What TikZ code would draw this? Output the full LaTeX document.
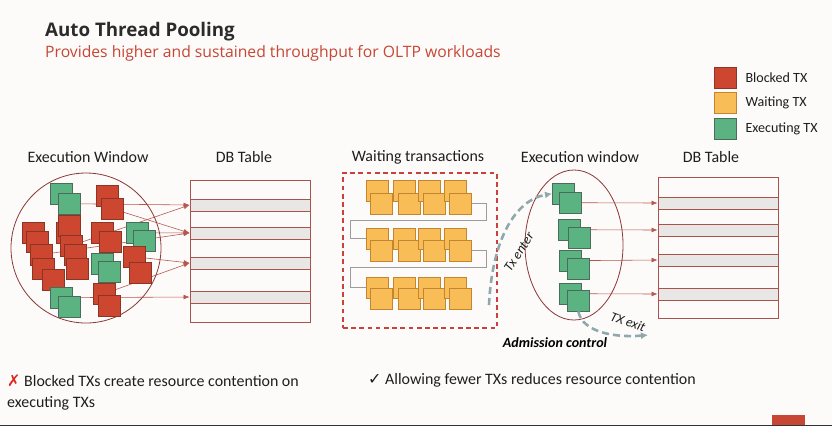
\documentclass[tikz,border=0pt]{standalone}
\usepackage{fontspec}
\setmainfont{Carlito}
\newfontfamily\headfont{Open Sans}
\newfontfamily\symfont{DejaVu Sans}
\usetikzlibrary{positioning,fit,backgrounds,arrows.meta,shapes.geometric}

\definecolor{paper}{HTML}{FCFBFA}
\definecolor{oraRed}{HTML}{C74634}
\definecolor{headGray}{HTML}{2B2B2B}
\definecolor{inkBlack}{HTML}{1E1E1E}
\definecolor{crossRed}{HTML}{E0251C}
\definecolor{blockFill}{HTML}{CC4630}
\definecolor{blockEdge}{HTML}{8A3526}
\definecolor{waitFill}{HTML}{F8BD57}
\definecolor{waitEdge}{HTML}{C5852E}
\definecolor{execFill}{HTML}{5BB382}
\definecolor{execEdge}{HTML}{4B6B5B}
\definecolor{tableEdge}{HTML}{A8534C}
\definecolor{rowFill}{HTML}{E9E7E6}
\definecolor{winEdge}{HTML}{8C3B37}
\definecolor{hitRed}{HTML}{B8554D}
\definecolor{dashRed}{HTML}{C8413A}
\definecolor{flowGray}{HTML}{8FA8AB}
\definecolor{queueGray}{HTML}{9C9C9C}

\tikzset{
  txbox/.style={draw, line width=0.6pt, minimum width=6.6mm, minimum height=6.2mm, inner sep=0pt, anchor=north west},
  blocked/.style={txbox, fill=blockFill, draw=blockEdge},
  waiting/.style={txbox, fill=waitFill, draw=waitEdge},
  executing/.style={txbox, fill=execFill, draw=execEdge},
  dbtable/.style={draw=tableEdge, line width=0.8pt, inner sep=0pt},
  dbrow/.style={dbtable, fill=rowFill},
  window/.style={draw=winEdge, line width=0.7pt, inner sep=0pt},
  hit/.style={draw=hitRed, line width=0.5pt, -{Latex[length=5pt,width=4pt]}},
  queue/.style={draw=queueGray, line width=0.8pt},
  flow/.style={draw=flowGray, line width=2.2pt, dash pattern=on 6pt off 3.5pt, -{Latex[length=6pt,width=6pt]}},
  heading/.style={font=\fontsize{13.6}{16}\selectfont, text=inkBlack},
  legendtext/.style={font=\fontsize{12}{14}\selectfont, text=inkBlack},
  note/.style={font=\fontsize{13.6}{17.5}\selectfont, text=inkBlack, inner sep=0pt},
}

\begin{document}
\begin{tikzpicture}[x=0.3mm, y=-0.3mm]
\begin{scope}[on background layer]
  \fill[paper] (0,0) rectangle (832,426);
\end{scope}
\useasboundingbox (0,0) rectangle (832,426);

% heading
\node[anchor=base west, inner sep=0pt, font=\headfont\bfseries\fontsize{16}{19}\selectfont, text=headGray] (title) at (45,36) {Auto Thread Pooling};
\node[anchor=base west, inner sep=0pt, font=\headfont\fontsize{13.4}{16}\selectfont, text=oraRed] (subtitle) at (45,57) {Provides higher and sustained throughput for OLTP workloads};

% legend
\node[blocked] (legB) at (714,67) {};
\node[waiting] (legW) at (714,92) {};
\node[executing] (legE) at (714,118) {};
\node[legendtext, right=1.4mm of legB] {Blocked TX};
\node[legendtext, right=1.4mm of legW] {Waiting TX};
\node[legendtext, right=1.4mm of legE] {Executing TX};

% column titles
\node[heading] (lwinlabel) at (88,157) {Execution Window};
\node[heading] (ltablabel) at (244,157) {DB Table};
\node[heading] (waitlabel) at (418,157) {Waiting transactions};
\node[heading] (rwinlabel) at (580,157) {Execution window};
\node[heading] (rtablabel) at (711,157) {DB Table};

% left side: crowded execution window
\node[window, circle, minimum size=45mm] (lwin) at (86,248) {};
\node[dbtable, fit={(190,180) (310,322)}] (ltab) {};
\foreach \i/\y in {1/199, 2/227, 3/257, 4/291}
  \node[dbrow, fit={(190,\y) (310,\y+12)}] (lrow\i) {};

\foreach \s/\n/\x/\y in {executing/g1/50/183, executing/g2/58/193,
    blocked/r1/96/185, blocked/r2/101/198,
    blocked/r3/22/222, blocked/r4/26/231, blocked/r5/30/244, blocked/r6/32/258, blocked/r7/42/269,
    blocked/r8/56/222, blocked/r9/58/215, blocked/r10/60/235, blocked/r11/64/244, blocked/r12/66/258,
    blocked/r13/91/222, blocked/r14/99/231,
    executing/g3/91/253, executing/g4/98/261,
    blocked/r15/93/283, blocked/r16/98/295,
    executing/g5/126/222, executing/g6/133/230,
    blocked/r17/123/246, blocked/r18/129/262,
    executing/g7/50/287, executing/g8/58/296}
  \node[\s] (\n) at (\x,\y) {};

\begin{scope}[on background layer]
  \draw[hit] (g2.center) -- (lrow1.west);
  \draw[hit] (r10.center) -- (lrow1.west);
  \draw[hit] (r2.center) -- (lrow2.west);
  \draw[hit] (r5.center) -- (lrow2.west);
  \draw[hit] (g5.center) -- (lrow2.west);
  \draw[hit] (r17.center) -- (lrow3.west);
  \draw[hit] (r15.center) -- (lrow3.west);
  \draw[hit] (g7.center) -- (lrow4.west);
\end{scope}

% waiting queue
\node[draw=dashRed, line width=0.9pt, dash pattern=on 4pt off 3pt, inner sep=0pt, fit={(343,173) (497,328)}] (wbox) {};
\foreach \r/\yb/\yf in {1/180/193, 2/228/240, 3/277/288}
  \foreach \c/\xb/\xf in {1/366/370, 2/393/398, 3/418/423, 4/444/449} {
    \node[waiting] (wb\r\c) at (\xb,\yb) {};
    \node[waiting] (wf\r\c) at (\xf,\yf) {};
  }
\draw[queue] (wf14.east) -| (486,220) -- (350,220) |- (wb21.west);
\draw[queue] (wf24.east) -| (486,267) -- (350,267) |- (wb31.west);

% right side: admission control
\node[window, ellipse, minimum width=29.4mm, minimum height=45mm] (rwin) at (574,245) {};
\node[dbtable, fit={(658,177) (778,318)}] (rtab) {};
\foreach \i/\y in {1/197, 2/224, 3/254, 4/288}
  \node[dbrow, fit={(658,\y) (778,\y+12)}] (rrow\i) {};

\foreach \n/\x/\y in {e1/552/183, e2/559/192, e3/558/219, e4/568/227,
    e5/559/250, e6/567/258, e7/559/283, e8/567/290}
  \node[executing] (\n) at (\x,\y) {};

\begin{scope}[on background layer]
  \draw[hit] (e2.center) -- (rrow1.west);
  \draw[hit] (e3.center) -- (rrow2.west);
  \draw[hit] (e5.center) -- (rrow3.west);
  \draw[hit] (e7.center) -- (rrow4.west);
\end{scope}

\coordinate (txin) at (489,305);
\coordinate (txout) at (648,335);
\draw[flow] (txin) .. controls (492,240) and (515,200) .. (e1.west);
\draw[flow] (e8.south) .. controls (582,332) and (615,338) .. (txout);
\node[rotate=57, inner sep=0pt, font=\itshape\fontsize{11.5}{13}\selectfont, text=inkBlack] (enterlabel) at (519,252) {Tx enter};
\node[rotate=-20, inner sep=0pt, font=\itshape\fontsize{11.5}{13}\selectfont, text=inkBlack] (exitlabel) at (628,322) {TX exit};
\node[font=\bfseries\itshape\fontsize{12}{14}\selectfont, text=black] (admission) at (555,343) {Admission control};

% notes
\node[note, anchor=north west, align=left] (note1) at (7,375)
  {{\symfont\color{crossRed}✗} Blocked TXs create resource contention on\\executing TXs};
\node[note, anchor=base west] (note2) at (368,384)
  {{\symfont ✓} Allowing fewer TXs reduces resource contention};

\fill[oraRed] (772,415) rectangle (805,426);
\draw[black!80, line width=0.8pt] (0,425.6) -- (832,425.6);
\end{tikzpicture}
\end{document}
